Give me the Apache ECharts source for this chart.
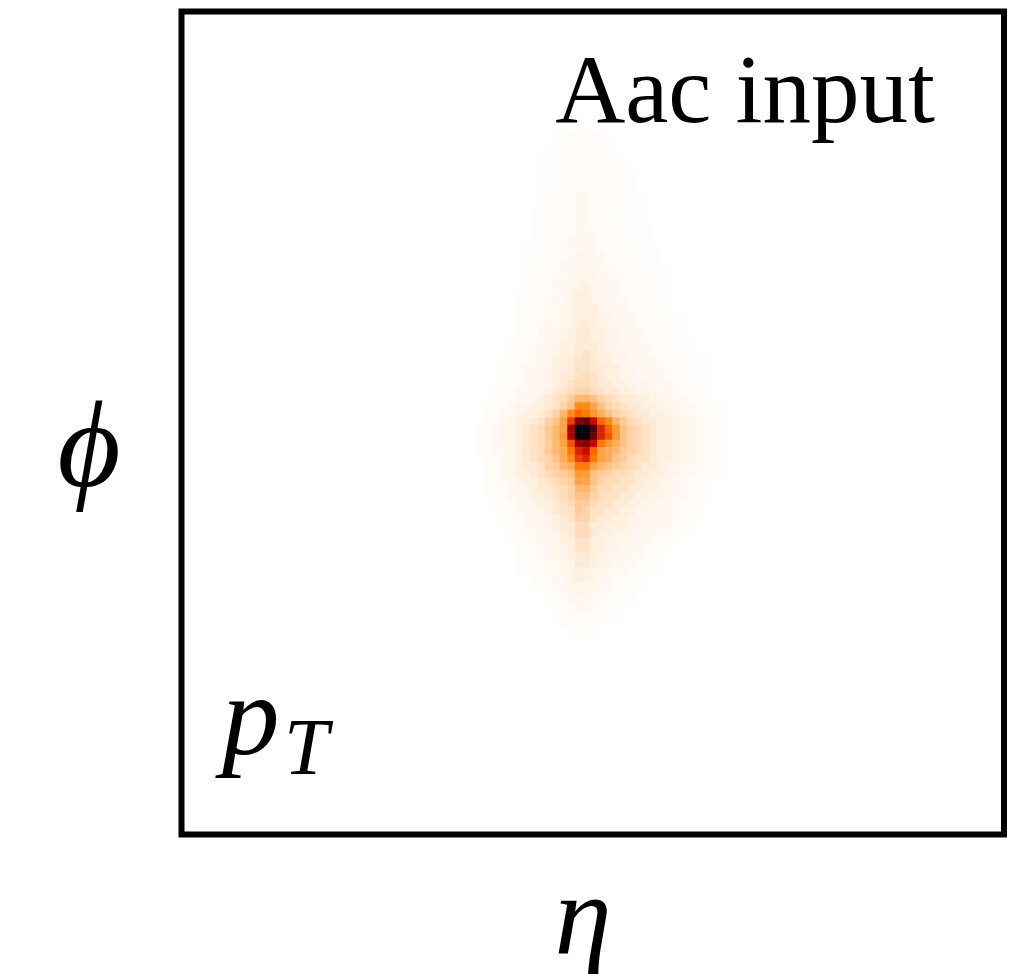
<!DOCTYPE html>
<html>
<head>
<meta charset="utf-8">
<title>Aac input</title>
<script src="https://cdn.jsdelivr.net/npm/echarts@6/dist/echarts.min.js"></script>
<style>
  html, body { margin: 0; padding: 0; background: #ffffff; }
  #chart { width: 1031px; height: 974px; }
</style>
</head>
<body>
<div id="chart"></div>
<script>
// Jet image: transverse momentum deposited in (eta, phi) cells, in % of the hottest cell.
const etaBinCount = 110;
const phiBinCount = 110;
const etaAxisBin = 53;     // eta bin holding the jet axis
const phiAxisBin = 55;     // phi bin holding the jet axis
const firstRowOffset = -39; // phi offset (in bins) of the first stored row
const firstColOffset = -14; // eta offset (in bins) of the first stored column

// one character per cell, looked up in levelCodes -> levelValues (pT, % of max)
const levelCodes = ".123456789abcdefghijklmnopqrst";
const levelValues = [0, 0.4, 0.8, 1.3, 2, 3, 4, 5.5, 7, 8.5,
  10, 12, 14, 16, 18, 20, 23, 26, 30, 34, 38, 43, 48, 54, 60, 66, 72, 80, 90, 100];

const pTRows = [
  "...........11222211",
  "...........11222211",
  "..........1122222111",
  ".........111222222111",
  ".........111222222111",
  ".........1112222222111",
  ".........1112222222111",
  ".........1112222222111",
  ".........11222332221111",
  ".........11222332221111",
  "........111222332221111",
  "........111222332221111",
  "........1112223322221111",
  "........1122223332221111",
  "........1122233332222111",
  ".......111222333322221111",
  ".......112222344332221111",
  ".......112223344332222111",
  ".......11222334443322221111",
  ".......11223334443332221111",
  ".......12223334544332222111",
  "......112223345544332222111",
  "......112233345544333222111",
  "......112233445554333222111",
  "......12223344555443332221111",
  "......12233344565443332222111",
  "......12233445665544333222111",
  ".....1122334456655443332221111",
  ".....1223344556665443333222111",
  ".....1223344556765544333222111",
  "....1122334556776554433332221111",
  "....1223344556776655443333222111",
  "....1223344566787655443333222111",
  "...11223344567887665544433322211",
  "...12233445678998766554443332221",
  "...1223345678accb987665544333221",
  "..12234455679bggeb9876655443332211",
  "..1233455679cgihfdb987665544332211",
  "..123455679bekpqmigca8766554433221",
  ".123445678acenttrlifb9876554433221",
  ".123445678acfnttqljfb9876554433221",
  ".123445678acejopmhfdb9876554433221",
  ".123345678acdhlmiedca9876554433221",
  "..123456789bdgklhedba8776554433221",
  "..123456679acdhhecba98766544333221",
  "..1234556789abffba9887665544332211",
  "..12334556789aeeb988776554433221",
  "..122344566789cca887766554433221",
  "..122334556789bb9877665544333221",
  "...12233455678aa877665544333221",
  "...12233445677a9776655444333221",
  "....12233445679976655444333221",
  "....12233445668866555444333221",
  ".....12233445688655444333221",
  ".....12233445577554443332221",
  "......12233445775544333221",
  "......12233445665444333221",
  "......11223344665443332211",
  "......11223344554433322211",
  "........122334554332211",
  "........122334444332211",
  "..........123344332211",
  "..........122333322211",
  "...........122332211",
  "...........122222211",
  "............122221",
  ".............1111"
];

const etaBins = Array.from({ length: etaBinCount }, (_, i) => String(i));
const phiBins = Array.from({ length: phiBinCount }, (_, i) => String(i));

const cells = [];
pTRows.forEach((row, i) => {
  for (let j = 0; j < row.length; j++) {
    const v = levelValues[levelCodes.indexOf(row[j])];
    if (v > 0) {
      cells.push([etaAxisBin + firstColOffset + j, phiAxisBin + firstRowOffset + i, v]);
    }
  }
});

// reversed "gist_heat" ramp, sampled every 1/12 of the range
const heatRamp = ['#ffffff', '#ffd4aa', '#ffaa55', '#ff8000', '#ff5500', '#df2a00',
  '#bf0000', '#9f0000', '#800000', '#600000', '#400000', '#200000', '#000000'];

const mathFont = 'italic 115px "Liberation Serif", "DejaVu Serif", serif';

const chart = echarts.init(document.getElementById('chart'), null, { renderer: 'canvas' });
chart.setOption({
  backgroundColor: '#ffffff',
  animation: false,
  grid: { left: 177.5, top: 12.5, width: 825, height: 825, containLabel: false },
  xAxis: { type: 'category', data: etaBins, show: false },
  yAxis: { type: 'category', data: phiBins, inverse: true, show: false },
  visualMap: {
    show: false, type: 'continuous', min: 0, max: 100, dimension: 2, seriesIndex: 0,
    inRange: { color: heatRamp }
  },
  series: [{
    type: 'heatmap',
    data: cells,
    silent: true,
    itemStyle: { borderWidth: 0 },
    emphasis: { disabled: true }
  }],
  graphic: [
    {
      type: 'rect', z: 100, silent: true,
      shape: { x: 181.5, y: 11.5, width: 822.5, height: 823 },
      style: { fill: 'none', stroke: '#000000', lineWidth: 6 }
    },
    {
      type: 'text', z: 100, silent: true, x: 935, y: 97,
      style: { text: 'Aac input', font: '97px "Liberation Serif", "DejaVu Serif", serif',
        fill: '#000000', textAlign: 'right', textVerticalAlign: 'middle' }
    },
    {
      type: 'text', z: 100, silent: true, x: 583, y: 924,
      style: { text: 'η', font: mathFont, fill: '#000000', textAlign: 'center', textVerticalAlign: 'middle' }
    },
    {
      type: 'text', z: 100, silent: true, x: 89, y: 454,
      style: { text: '\u03D5', font: 'italic 122px "Liberation Serif", "DejaVu Serif", serif',
        fill: '#000000', textAlign: 'center', textVerticalAlign: 'middle' }
    },
    {
      type: 'group', z: 100, silent: true,
      children: [
        { type: 'text', x: 222, y: 724,
          style: { text: 'p', font: mathFont, fill: '#000000', textAlign: 'left', textVerticalAlign: 'middle' } },
        { type: 'text', x: 284, y: 753,
          style: { text: 'T', font: 'italic 80px "Liberation Serif", "DejaVu Serif", serif', fill: '#000000',
            textAlign: 'left', textVerticalAlign: 'middle' } }
      ]
    }
  ]
});
</script>
</body>
</html>
